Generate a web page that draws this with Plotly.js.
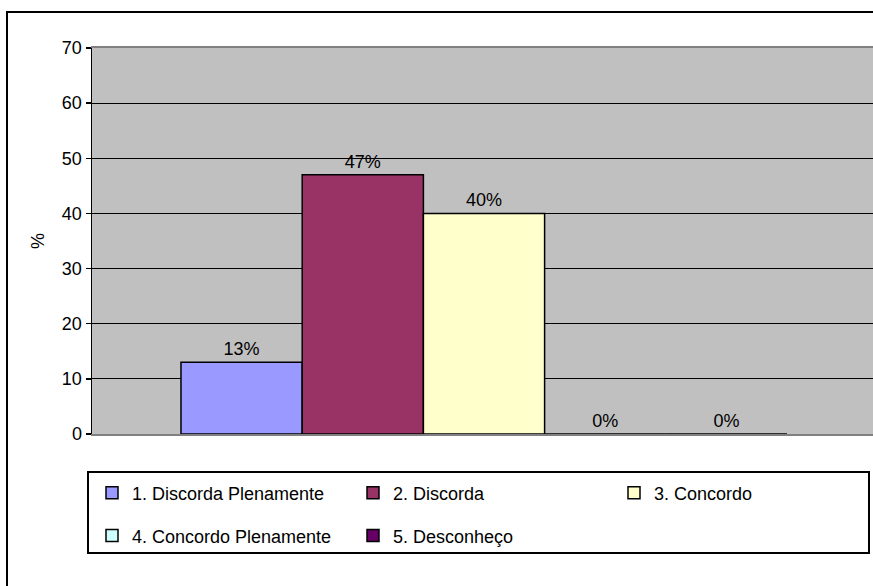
<!DOCTYPE html>
<html>
<head>
<meta charset="utf-8">
<script src="https://cdn.plot.ly/plotly-3.0.1.min.js"></script>
<style>
  html, body { margin: 0; padding: 0; overflow: hidden; background: #fff; width: 873px; height: 586px; }
  #chart { position: absolute; left: 0; top: 0; width: 890px; height: 586px; }
  .frame { position: absolute; box-sizing: border-box; pointer-events: none; background: transparent; }
  #outer { left: 6px; top: 11px; width: 1000px; height: 1000px; border: 2px solid #000; }
  #legbox { left: 87px; top: 471px; width: 783px; height: 83px; border: 2px solid #000; }
</style>
</head>
<body>
<div id="chart"></div>
<div id="outer" class="frame"></div>
<div id="legbox" class="frame"></div>
<script>
const category = ['Resposta'];
const seriesNames = ['1. Discorda Plenamente', '2. Discorda', '3. Concordo', '4. Concordo Plenamente', '5. Desconheço'];
const seriesValues = [13, 47, 40, 0, 0];
const seriesLabels = ['13%', '47%', '40%', '0%', '0%'];
const seriesColors = ['#9999FF', '#993366', '#FFFFCC', '#CCFFFF', '#660066'];
const yTicks = [0, 10, 20, 30, 40, 50, 60, 70];

const FONT = 'Liberation Sans, Arial, sans-serif';

const traces = seriesNames.map((name, i) => ({
  type: 'bar',
  name: name,
  x: category,
  y: [seriesValues[i]],
  text: [seriesLabels[i]],
  textposition: 'outside',
  textfont: { family: FONT, size: 18, color: '#000' },
  cliponaxis: false,
  marker: { color: seriesColors[i], line: { color: '#000', width: 1.5 } },
  legend: i < 3 ? 'legend' : 'legend2',
  hoverinfo: 'skip'
}));

const legendCommon = {
  orientation: 'h',
  xanchor: 'left',
  yanchor: 'middle',
  bgcolor: 'rgba(0,0,0,0)',
  borderwidth: 0,
  font: { family: FONT, size: 18, color: '#000' },
  entrywidth: 216,
  entrywidthmode: 'pixels',
  itemclick: false,
  itemdoubleclick: false
};

const layout = {
  width: 890,
  height: 586,
  margin: { l: 92, r: 14, t: 48, b: 152, pad: 0 },
  paper_bgcolor: 'rgba(0,0,0,0)',
  plot_bgcolor: '#C0C0C0',
  barmode: 'group',
  bargap: 0.227,
  bargroupgap: 0,
  showlegend: true,
  font: { family: FONT, size: 18, color: '#000' },
  xaxis: {
    range: [-0.5, 0.5],
    showticklabels: false,
    showgrid: false,
    zeroline: false,
    showline: true,
    linecolor: '#808080',
    linewidth: 2,
    mirror: true,
    ticks: '',
    fixedrange: true
  },
  yaxis: {
    range: [0, 70],
    tickvals: yTicks,
    ticktext: yTicks.map(String),
    showgrid: true,
    gridcolor: '#000',
    gridwidth: 1,
    zeroline: false,
    showline: true,
    linecolor: '#000',
    linewidth: 1.5,
    ticks: 'outside',
    ticklen: 5,
    tickwidth: 1.5,
    tickcolor: '#000',
    tickfont: { family: FONT, size: 18, color: '#000' },
    title: { text: '%', font: { family: FONT, size: 18, color: '#000' }, standoff: 12 },
    fixedrange: true
  },
  legend: Object.assign({}, legendCommon, { x: 0.0, y: -0.153 }),
  legend2: Object.assign({}, legendCommon, { x: 0.0, y: -0.264 })
};

Plotly.newPlot('chart', traces, layout, { staticPlot: true, displayModeBar: false });
</script>
</body>
</html>
